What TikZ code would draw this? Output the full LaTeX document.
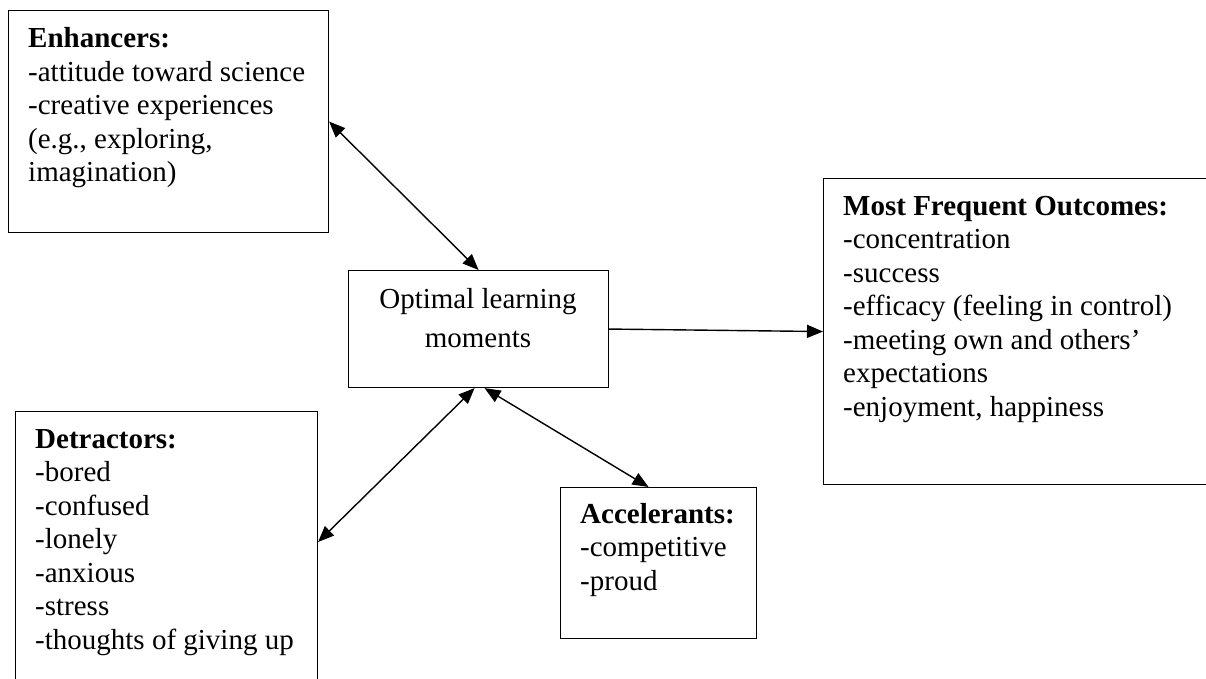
\documentclass[tikz,border=0pt]{standalone}
\usepackage{fontspec}
\setmainfont{Liberation Serif}
\usetikzlibrary{arrows.meta}

\begin{document}
\begin{tikzpicture}[x=1pt, y=-1pt,
    box/.style={draw, line width=1.1pt, rectangle, inner sep=0pt, anchor=north west},
    txt/.style={align=left, inner sep=0pt, anchor=base west, font=\fontsize{29}{33.5}\selectfont},
    link/.style={line width=1.4pt, {Triangle[length=16pt,width=13pt]}-{Triangle[length=16pt,width=13pt]}}]

    \useasboundingbox (0,0) rectangle (1206,679);

    % Cajas
    \node[box, minimum width=320pt, minimum height=222pt] (enh) at (8,10) {};
    \node[box, minimum width=260pt, minimum height=117pt] (opt) at (348,270) {};
    \node[box, minimum width=390pt, minimum height=306pt] (out) at (823,178) {};
    \node[box, minimum width=302pt, minimum height=280pt] (det) at (15,411) {};
    \node[box, minimum width=196pt, minimum height=151pt] (acc) at (560,487) {};

    % Textos de cada caja (anclados en la linea base de la ultima linea)
    \node[txt] (enh-t) at (28,182) {\textbf{Enhancers:}\\-attitude toward science\\-creative experiences\\(e.g., exploring,\\imagination)};
    \node[txt, align=center, anchor=base, font=\fontsize{29}{39}\selectfont] (opt-t) at (478,347) {Optimal learning\\moments};
    \node[txt] (out-t) at (843,416) {\textbf{Most Frequent Outcomes:}\\-concentration\\-success\\-efficacy (feeling in control)\\-meeting own and others'\\expectations\\-enjoyment, happiness};
    \node[txt] (det-t) at (35,649) {\textbf{Detractors:}\\-bored\\-confused\\-lonely\\-anxious\\-stress\\-thoughts of giving up};
    \node[txt] (acc-t) at (580,590) {\textbf{Accelerants:}\\-competitive\\-proud};

    % Flechas
    \coordinate (det-in) at ([yshift=-131pt]det.north east);
    \draw[link] (enh.east) -- (opt.north);
    \draw[link] ([xshift=-4pt]opt.south) -- (det-in);
    \draw[link] ([xshift=6pt]opt.south) -- ([xshift=-10pt]acc.north);
    \draw[line width=1.4pt, -{Triangle[length=16pt,width=13pt]}] (opt.east) -- (out.west);
\end{tikzpicture}
\end{document}
